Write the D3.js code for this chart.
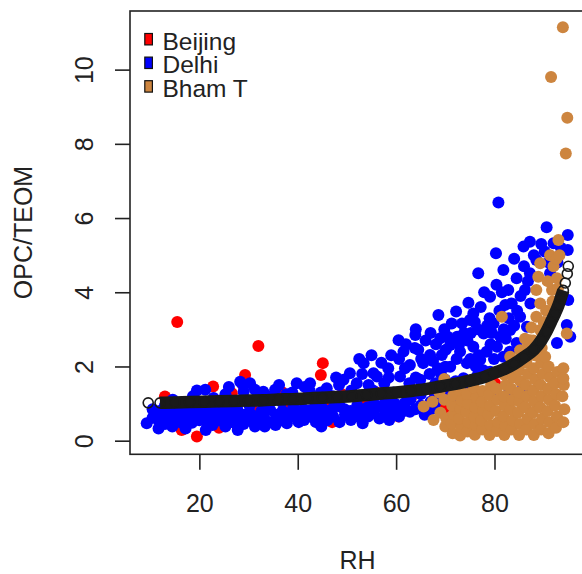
<!DOCTYPE html>
<html>
<head>
<meta charset="utf-8">
<script src="https://cdn.jsdelivr.net/npm/d3@7"></script>
<style>
body{margin:0;background:#fff;}
svg{display:block;font-family:"Liberation Sans",Arial,sans-serif;}
</style>
</head>
<body>
<svg id="chart" width="582" height="574"></svg>
<script>
// series names / colours from the legend
var seriesNames = ["Beijing", "Delhi", "Bham T"];
var seriesColors = ["#ff0000", "#0000ff", "#cd853f"];
var xTicks = [20, 40, 60, 80];
var yTicks = [0, 2, 4, 6, 8, 10];

// [RH, OPC/TEOM]
var beijing = [[13,1.19],[14.5,0.9],[15.5,3.2],[16.4,0.29],[18,1.05],[19.5,0.11],[21,0.6],[22.8,1.46],[24,0.35],[25,1.0],
 [26.6,1.28],[27.5,0.45],[28.8,1.52],[29.3,1.77],[31,0.8],[32,2.55],[33.5,1.15],[35.7,0.56],[36.7,1.32],[38,0.9],
 [40.5,0.61],[42,1.2],[44.7,1.77],[45.1,2.09],[45.8,0.92],[47,0.5],[49,1.25],[51,0.7],[53.5,1.0],[56,1.3],
 [60.5,0.65],[63,1.15],[67.9,1.23],[70,0.9],[80.1,1.55]];

var delhi = [[9.3,0.47],[10.5,0.62],[10.5,0.85],[11.7,0.33],[11.7,0.55],[11.9,0.8],[13,0.45],[13.2,0.7],[13,0.95],[14.5,0.38],
 [14.7,0.6],[14.4,0.85],[14.6,1.1],[16,0.5],[16.1,0.75],[15.8,1.0],[17.2,0.33],[17.3,0.6],[17.1,0.85],[18.5,0.48],
 [18.6,0.72],[18.4,0.95],[18.7,1.2],[20,0.55],[20.1,0.8],[19.9,1.05],[21.3,0.29],[21.5,0.5],[21.4,0.75],[21.2,1.37],
 [22.7,0.42],[22.8,0.65],[22.6,0.9],[22.9,1.15],[24,0.55],[24.1,0.8],[24,1.0],[25.3,0.38],[25.2,0.62],[25.4,0.88],
 [25.3,1.25],[26.7,0.5],[26.6,0.75],[26.8,1.05],[27.8,0.29],[27.9,0.6],[27.7,0.85],[28.3,1.59],[29,0.45],[29.1,0.7],
 [29,1.32],[28.9,1.5],[30.3,0.55],[30.3,0.74],[30.2,0.95],[30.3,1.55],[31.3,0.38],[31.4,0.65],[31.3,1.37],[32.5,0.5],
 [32.6,0.8],[32.4,1.1],[33.3,0.38],[33.2,0.6],[33.4,0.9],[33,1.32],[34.5,0.5],[34.4,0.83],[34.6,1.2],[35.5,0.42],
 [35.6,0.7],[35.4,1.37],[36.8,0.55],[36.9,0.8],[36.7,1.05],[37.8,0.47],[37.9,0.72],[37.7,1.25],[39,0.65],[39.1,0.9],
 [38.9,1.3],[40.2,0.5],[40.3,0.75],[40.1,1.1],[41.3,0.56],[41.2,0.85],[41.4,1.45],[42.5,0.65],[42.6,0.83],[42.5,1.55],
 [42.4,1.35],[43.7,0.5],[43.8,0.75],[43.6,1.05],[44.8,0.38],[44.5,0.62],[44.9,0.9],[44.7,1.3],[46,0.55],[46.1,0.8],
 [45.9,1.41],[47.2,0.65],[47.3,0.9],[47.1,1.2],[48.5,0.5],[48.6,0.92],[48.4,1.5],[49.6,0.7],[49.5,0.85],[49.3,1.64],
 [50.8,0.56],[50.7,0.8],[50.6,1.82],[50.9,1.35],[52,0.65],[52.1,0.95],[52,1.55],[53.2,0.47],[53.3,0.75],[53.4,2.09],
 [53.1,1.8],[54.3,0.65],[54.2,0.9],[54.4,1.5],[55.4,0.74],[55.5,1.0],[55.4,1.82],[55.3,1.35],[56.5,0.92],[56.6,0.6],
 [56.1,1.73],[57.7,0.8],[57.8,1.1],[57.6,1.55],[58.6,0.56],[58.7,0.95],[58.4,1.95],[58.5,1.7],[59.6,0.75],[59.7,1.0],
 [59.5,1.3],[60.6,0.65],[60.7,0.9],[60.8,1.73],[60.5,2.71],[60.6,2.2],[61.7,1.01],[61.6,0.8],[61.5,2.4],[61.8,1.95],
 [62.8,0.78],[62.9,1.1],[62.8,2.04],[62.7,1.55],[63.9,0.85],[63.9,2.85],[64,1.7],[63.8,2.5],[65,0.95],[64.9,1.64],
 [65.1,2.2],[65,1.25],[65.8,0.7],[65.5,2.09],[65.9,1.4],[66.9,2.31],[66.8,1.8],[67,1.05],[67.1,0.85],[68,1.55],
 [68.1,2.6],[68,1.25],[67.9,1.0],[69,2.76],[69.3,2.31],[69.1,1.8],[68.6,3.39],[70,1.99],[70.1,2.45],[69.9,1.65],
 [70,1.2],[71,2.58],[71.3,3.16],[71,1.99],[71.7,1.01],[71.2,1.4],[72.2,3.48],[72.3,2.2],[72.1,1.6],[72.4,2.8],
 [73.4,3.16],[73,2.4],[73.7,1.68],[73.2,1.3],[74.7,3.72],[74.4,2.09],[74.5,2.7],[74.3,1.45],[75,3.25],[75.2,2.9],
 [75.1,2.2],[75.3,1.6],[75.7,3.43],[75.7,2.53],[76.7,4.51],[76.6,3.0],[76.8,2.3],[76.5,1.75],[77.1,2.18],[77.2,3.6],
 [77.8,2.89],[77.9,4.0],[77.7,1.9],[79.1,3.88],[79.1,1.86],[79.2,2.6],[79,3.3],[79.8,3.16],[79.9,2.2],[80.3,5.05],
 [80.5,2.53],[80.4,4.2],[80.8,6.42],[81.8,4.6],[81.8,2.26],[81.9,3.0],[82.2,3.66],[82.3,2.75],[82.8,4.06],[82.9,3.3],
 [83.2,2.98],[83.1,2.4],[84.5,4.38],[84.5,2.63],[84.6,3.5],[85.2,3.34],[85.3,3.9],[85.9,5.23],[86,4.7],[86.2,4.06],
 [86.6,3.07],[87.2,5.36],[87.2,4.51],[87.3,3.7],[88.5,4.87],[90.6,5.75],[91.3,4.51],[92,5.32],[92.7,2.63],[94.7,3.12],
 [94.9,5.54],[94.9,5.14],[95,3.79],[95.4,2.8],[80.7,1.18],[85.8,1.42],[83,1.3],
 [59,2.3],[62,2.6],[64.5,2.45],[66,2.7],[67.5,2.15],[68.5,1.95],[70.5,2.8],[72.8,2.6],[73.8,2.9],[76,3.2],
 [76.2,2.0],[78.4,2.4],[78.5,3.1],[79.5,2.9],[81,3.5],[81.2,2.8],[81.5,4.0],[83.5,3.7],[84,3.1],[84,4.9],
 [86.8,4.3],[88,5.0],[89.5,5.3],[90.2,5.1],[91,4.8],[92.8,4.8],[93.5,5.2],[57,2.1],[55,2.3],[52.5,2.2],
 [64,3.0],[67,2.9],[69.8,3.0],[47.8,1.7],[39.8,1.55],[26,1.45],[19.5,1.35],[36.2,1.5]];

var bham = [[65.6,0.92],[67.6,0.56],[67.4,1.05],[69,0.75],[68.8,1.3],[70,0.38],[70.2,0.6],[69.8,1.1],[69.8,1.66],
 [71.5,0.2],[71.3,0.47],[71.7,0.72],[71.4,0.95],[71.6,1.22],
 [73,0.14],[73.2,0.36],[72.8,0.6],[73.1,0.87],[73.3,1.08],[72.9,1.36],
 [74.5,0.25],[74.7,0.5],[74.3,0.77],[74.6,1.0],[74.4,1.26],
 [76,0.16],[76.2,0.42],[75.9,0.66],[76.1,0.9],[76.3,1.18],[75.8,1.44],
 [77.5,0.3],[77.3,0.55],[77.7,0.82],[77.4,1.05],[77.6,1.34],
 [79,0.15],[79.2,0.42],[78.8,0.7],[79.1,0.95],[78.9,1.24],[79.3,1.5],
 [80.5,0.26],[80.7,0.5],[80.3,0.8],[80.6,1.1],[80.4,1.4],
 [82,0.15],[82.2,0.4],[81.8,0.66],[82.1,0.95],[81.9,1.2],[82.3,1.5],[82,1.78],
 [83.5,0.3],[83.7,0.55],[83.3,0.84],[83.6,1.1],[83.4,1.4],[83.8,1.7],[83.5,2.0],
 [85,0.15],[85.2,0.45],[84.8,0.75],[85.1,1.05],[84.9,1.3],[85.3,1.6],[85,1.9],[85.2,2.2],
 [86.5,0.3],[86.7,0.6],[86.3,0.9],[86.6,1.2],[86.4,1.5],[86.8,1.8],[86.5,2.1],[86.6,2.5],
 [88,0.15],[88.2,0.45],[87.8,0.75],[88.1,1.05],[87.9,1.35],[88.3,1.65],[88,1.95],[88.2,2.3],[87.9,2.7],
 [89.5,0.3],[89.7,0.6],[89.3,0.9],[89.6,1.2],[89.4,1.5],[89.8,1.8],[89.5,2.1],[89.6,2.5],
 [91,0.2],[91.2,0.5],[90.8,0.8],[91.1,1.1],[90.9,1.4],[91.3,1.7],[91,2.0],
 [92.5,0.35],[92.7,0.65],[92.3,0.95],[92.6,1.25],[92.4,1.55],[92.8,1.85],
 [94,0.5],[94.2,0.85],[93.8,1.2],[94.1,1.5],
 [93.0,5.41],[91.3,5.0],[89.3,4.78],[88.9,4.42],[92.7,4.38],[88.5,4.06],[91.7,4.06],[89.3,3.7],[81.5,3.34],[88.5,3.34],
 [89.3,2.98],[87.2,2.71],[85.2,2.44],[94.7,2.89],[83.2,2.26],[90.3,2.26],[94.0,1.95],[94.0,1.68],[92,4.7],[90.5,3.5],
 [90.8,4.3],[92.6,4.9],[93.2,5.0],[90,3.2],[91.8,3.75],[92.9,4.1],[87.5,3.05],[86.2,2.75],
 [93.9,11.14],[91.5,9.8],[94.8,8.7],[94.5,7.74]];

// fitted curve (open circles in the original)
var fit = [[9.6,1.02],[12,1.02],[15,1.03],[18,1.04],[21,1.05],[24,1.06],[27,1.07],[30,1.08],[33,1.09],[36,1.11],
 [39,1.12],[42,1.14],[45,1.16],[48,1.18],[51,1.2],[54,1.23],[57,1.27],[60,1.3],[63,1.34],[66,1.39],
 [69,1.46],[72,1.53],[75,1.62],[78,1.72],[80,1.83],[82,1.93],[84,2.07],[86,2.25],[88,2.45],[89.5,2.7],
 [90.6,2.95],[91.5,3.2],[92.3,3.43],[93,3.65],[93.5,3.85],[94,4.05],[94.4,4.25],[94.8,4.5],[95,4.7]];

var svg = d3.select("#chart");
var x = d3.scaleLinear().domain([5.9, 98.4]).range([130, 585]);
var y = d3.scaleLinear().domain([-0.367, 11.58]).range([454.3, 11]);
var ink = "#222";
var fs = 25;

// points
var pts = svg.append("g");
[beijing, delhi, bham].forEach(function(set, i){
	pts.append("g").selectAll("circle").data(set).enter().append("circle")
		.attr("cx", function(d){return x(d[0]);})
		.attr("cy", function(d){return y(d[1]);})
		.attr("r", 6)
		.attr("fill", seriesColors[i]);
});

// fitted curve: dense band + open circles
var band = fit.filter(function(d){return d[0] >= 11.5 && d[0] <= 94;});
svg.append("path").datum(band)
	.attr("d", d3.line().x(function(d){return x(d[0]);}).y(function(d){return y(d[1]);}).curve(d3.curveMonotoneX))
	.attr("fill", "none").attr("stroke", "#1a1a1a").attr("stroke-width", 12.5);
svg.append("g").selectAll("circle").data(fit).enter().append("circle")
	.attr("cx", function(d){return x(d[0]);})
	.attr("cy", function(d){return y(d[1]);})
	.attr("r", 5)
	.attr("fill", "none").attr("stroke", "#1a1a1a").attr("stroke-width", 1.6);

// frame
svg.append("rect").attr("x", 130).attr("y", 11).attr("width", 455).attr("height", 443.3)
	.attr("fill", "none").attr("stroke", ink).attr("stroke-width", 1.6);

// axes
var ya = svg.append("g").attr("transform", "translate(130,0)")
	.call(d3.axisLeft(y).tickValues(yTicks).tickSize(15).tickSizeOuter(0).tickFormat(d3.format("d")));
ya.select(".domain").remove();
ya.selectAll("line").attr("stroke", ink).attr("stroke-width", 1.6);
ya.selectAll("text").attr("x", null).attr("dy", null)
	.attr("transform", "translate(-36.7,0) rotate(-90)")
	.attr("text-anchor", "middle").attr("fill", ink)
	.style("font-size", fs + "px").style("font-family", "'Liberation Sans',Arial,sans-serif");

var xa = svg.append("g").attr("transform", "translate(0,454.3)")
	.call(d3.axisBottom(x).tickValues(xTicks).tickSize(15.5).tickSizeOuter(0));
xa.select(".domain").remove();
xa.selectAll("line").attr("stroke", ink).attr("stroke-width", 1.6);
xa.selectAll("text").attr("y", 57.4).attr("dy", null).attr("fill", ink)
	.style("font-size", fs + "px").style("font-family", "'Liberation Sans',Arial,sans-serif");

// axis titles
svg.append("text").attr("x", 357.5).attr("y", 568.5).attr("text-anchor", "middle")
	.attr("fill", ink).style("font-size", fs + "px").text("RH");
svg.append("text").attr("transform", "translate(31.7,232.5) rotate(-90)").attr("text-anchor", "middle")
	.attr("fill", ink).style("font-size", fs + "px").text("OPC/TEOM");

// legend
var lg = svg.append("g").selectAll("g").data(seriesNames).enter().append("g")
	.attr("transform", function(d, i){return "translate(0," + (i * 23.6) + ")";});
lg.append("rect").attr("x", 144.8).attr("y", 33.5).attr("width", 7.6).attr("height", 11.4)
	.attr("fill", function(d, i){return seriesColors[i];}).attr("stroke", "#111").attr("stroke-width", 1.2);
lg.append("text").attr("x", 162.5).attr("y", 49.8).attr("fill", ink)
	.style("font-size", "24.5px").text(function(d){return d;});
</script>
</body>
</html>
